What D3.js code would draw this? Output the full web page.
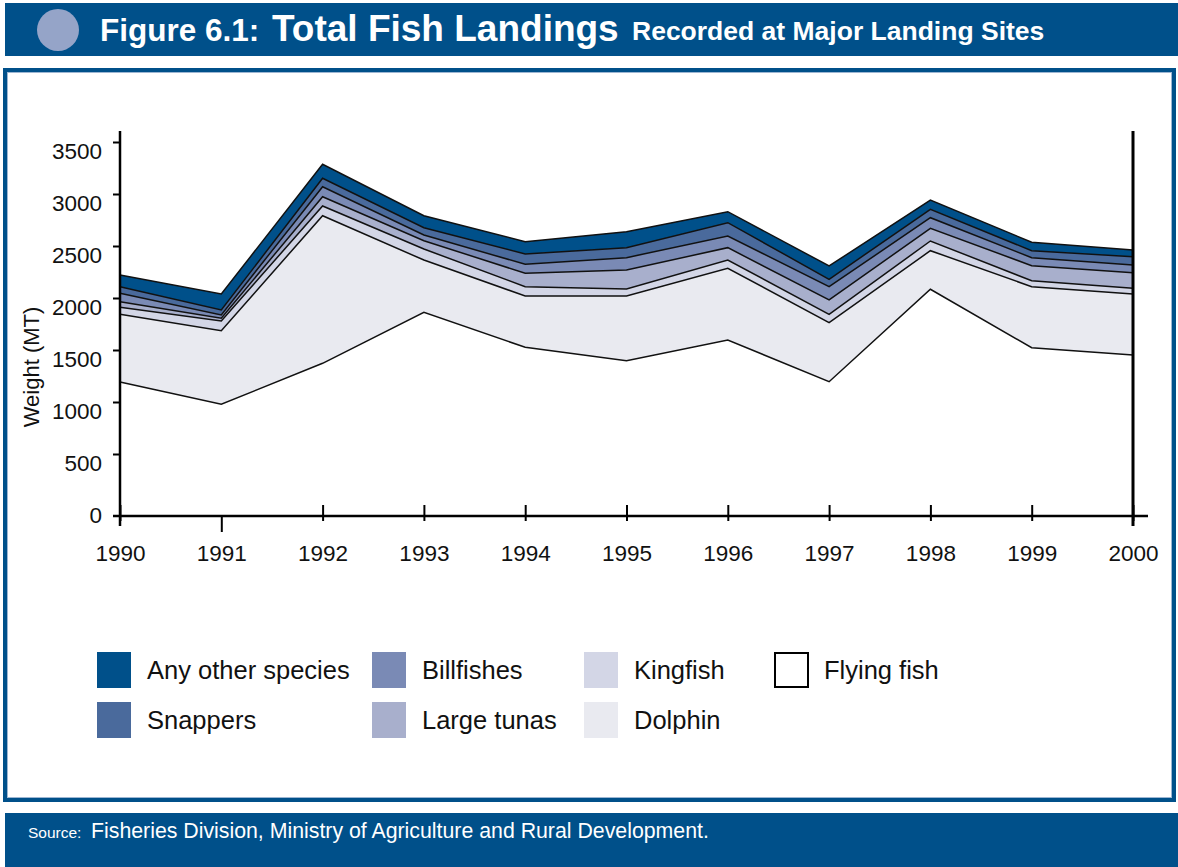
<!DOCTYPE html>
<html>
<head>
<meta charset="utf-8">
<script src="https://cdn.jsdelivr.net/npm/d3@7"></script>
<style>
  html, body { margin: 0; padding: 0; background: #ffffff; }
  svg { display: block; font-family: "Liberation Sans", Arial, Helvetica, sans-serif; }
</style>
</head>
<body>
<svg id="chart" width="1178" height="867"></svg>
<script>
// ---------------- data ----------------
const years = [1990, 1991, 1992, 1993, 1994, 1995, 1996, 1997, 1998, 1999, 2000];
const flyingFish   = [1192,  978, 1372, 1863, 1526, 1397, 1596, 1195, 2084, 1522, 1452];
const dolphin      = [ 651,  708, 1419,  502,  493,  622,  690,  568,  371,  587,  586];
const kingfish     = [  68,   93,   94,  106,   90,   68,   79,   80,   93,   57,   55];
const largeTunas   = [  53,   26,   89,   80,  129,  182,  119,  138,  122,  145,  150];
const billfishes   = [  81,   32,   96,   55,   86,  119,  112,  128,  102,   77,   74];
const snappers     = [  64,   48,   81,   70,   99,   96,  128,   71,   81,   67,   80];
const otherSpecies = [ 112,  153,  135,  115,  118,  154,  106,  128,   89,   81,   65];
const seriesNames  = ["Flying fish", "Dolphin", "Kingfish", "Large tunas", "Billfishes", "Snappers", "Any other species"];
const seriesColors = ["#ffffff", "#e9eaf0", "#d3d6e6", "#a8afcc", "#7a8ab5", "#4a6a9c", "#00508a"];
const yTicks = [0, 500, 1000, 1500, 2000, 2500, 3000, 3500];
const legendOrder = [
  ["Any other species", "Billfishes", "Kingfish", "Flying fish"],
  ["Snappers", "Large tunas", "Dolphin"]
];
const titleParts = ["Figure 6.1:", "Total Fish Landings", "Recorded at Major Landing Sites"];
const sourceLabel = "Source:";
const sourceText = "Fisheries Division, Ministry of Agriculture and Rural Development.";

// build table
const seriesValues = [flyingFish, dolphin, kingfish, largeTunas, billfishes, snappers, otherSpecies];
const table = years.map((yr, i) => {
  const row = { year: yr };
  seriesNames.forEach((n, k) => row[n] = seriesValues[k][i]);
  return row;
});

const svg = d3.select("#chart");
const BLUE = "#00508a";

// ---------------- header ----------------
svg.append("rect").attr("x", 5).attr("y", 3).attr("width", 1173).attr("height", 53).attr("fill", BLUE);
svg.append("ellipse").attr("cx", 58).attr("cy", 30).attr("rx", 21).attr("ry", 21).attr("fill", "#95a4c8");
const titleG = svg.append("g").attr("fill", "#ffffff").attr("font-weight", "bold");
titleG.append("text").attr("x", 100).attr("y", 41).attr("font-size", 31.5).text(titleParts[0]);
titleG.append("text").attr("x", 272).attr("y", 41).attr("font-size", 37).text(titleParts[1]);
titleG.append("text").attr("x", 632).attr("y", 40).attr("font-size", 26.5).text(titleParts[2]);

// ---------------- panel ----------------
svg.append("rect").attr("x", 5).attr("y", 70).attr("width", 1169).attr("height", 730)
  .attr("fill", "#ffffff").attr("stroke", BLUE).attr("stroke-width", 4);
svg.append("rect").attr("x", 7.5).attr("y", 72.5).attr("width", 1164).attr("height", 725)
  .attr("fill", "none").attr("stroke", "#9db6d2").attr("stroke-width", 1);

// ---------------- footer ----------------
svg.append("rect").attr("x", 5).attr("y", 813).attr("width", 1173).attr("height", 54).attr("fill", BLUE);
svg.append("text").attr("x", 28).attr("y", 838).attr("fill", "#ffffff").attr("font-size", 15.5).text(sourceLabel);
svg.append("text").attr("x", 91).attr("y", 838).attr("fill", "#ffffff").attr("font-size", 21.3).text(sourceText);

// ---------------- scales ----------------
const x = d3.scaleLinear().domain([1990, 2000]).range([120, 1133]);
const y = d3.scaleLinear().domain([0, 3500]).range([506, 142]);
const axisY = 516;

const stack = d3.stack().keys(seriesNames);
const stacked = stack(table);

const area = d3.area().x(d => x(d.data.year)).y0(d => y(d[0])).y1(d => y(d[1]));
const topLine = d3.line().x(d => x(d.data.year)).y(d => y(d[1]));

const g = svg.append("g");
stacked.forEach((s, i) => {
  g.append("path").datum(s).attr("d", area).attr("fill", seriesColors[i]).attr("stroke", "none");
});
stacked.forEach((s, i) => {
  g.append("path").datum(s).attr("d", topLine).attr("fill", "none")
    .attr("stroke", "#111").attr("stroke-width", 1.5).attr("stroke-linejoin", "miter");
});

// ---------------- axes ----------------
const yAxis = d3.axisLeft(y).tickValues(yTicks).tickSize(7).tickSizeOuter(0).tickFormat(d3.format("d"));
const yg = svg.append("g").attr("transform", "translate(120,0)").call(yAxis);
yg.select(".domain").remove();
yg.selectAll(".tick line").attr("stroke", "#000").attr("stroke-width", 2)
  .attr("display", d => d === 0 ? "none" : null);
yg.selectAll(".tick text").attr("x", -18).attr("dy", "0.35em").attr("transform", "translate(0,9)")
  .attr("font-size", 22.5).attr("fill", "#111").attr("font-family", "Liberation Sans, Arial, sans-serif");

// y axis line + right frame line
svg.append("line").attr("x1", 120).attr("x2", 120).attr("y1", 131).attr("y2", 526)
  .attr("stroke", "#000").attr("stroke-width", 2.5);
svg.append("line").attr("x1", 1133).attr("x2", 1133).attr("y1", 131).attr("y2", 526)
  .attr("stroke", "#000").attr("stroke-width", 3);

const xAxis = d3.axisBottom(x).tickValues(years).tickFormat(d3.format("d")).tickSizeOuter(0);
const xg = svg.append("g").attr("transform", `translate(0,${axisY})`).call(xAxis);
xg.select(".domain").remove();
xg.selectAll(".tick line").attr("stroke", "#000").attr("stroke-width", 2)
  .attr("y1", d => d === 1991 ? 0 : -11)
  .attr("y2", d => d === 1991 ? 16 : 5);
xg.selectAll(".tick text").attr("y", 37).attr("dy", "0.35em")
  .attr("font-size", 22.5).attr("fill", "#111").attr("font-family", "Liberation Sans, Arial, sans-serif");
svg.append("line").attr("x1", 113).attr("x2", 1148).attr("y1", axisY).attr("y2", axisY)
  .attr("stroke", "#000").attr("stroke-width", 2.5);

// y axis title
svg.append("text").attr("transform", "translate(39,367) rotate(-90)").attr("text-anchor", "middle")
  .attr("font-size", 22).attr("fill", "#111").text("Weight (MT)");

// ---------------- legend ----------------
const colX = [97, 372, 584, 774];
const rowY = [652, 702];
const colorOf = n => seriesColors[seriesNames.indexOf(n)];
legendOrder.forEach((row, r) => {
  row.forEach((name, c) => {
    const lg = svg.append("g").attr("transform", `translate(${colX[c]},${rowY[r]})`);
    if (name === "Flying fish") {
      lg.append("rect").attr("x", 1).attr("y", 1).attr("width", 33).attr("height", 34)
        .attr("fill", "#fff").attr("stroke", "#000").attr("stroke-width", 2);
    } else {
      lg.append("rect").attr("width", 34).attr("height", 36).attr("fill", colorOf(name));
    }
    lg.append("text").attr("x", 50).attr("y", 18).attr("dy", "0.35em")
      .attr("font-size", 25.5).attr("fill", "#111").text(name);
  });
});
</script>
</body>
</html>
